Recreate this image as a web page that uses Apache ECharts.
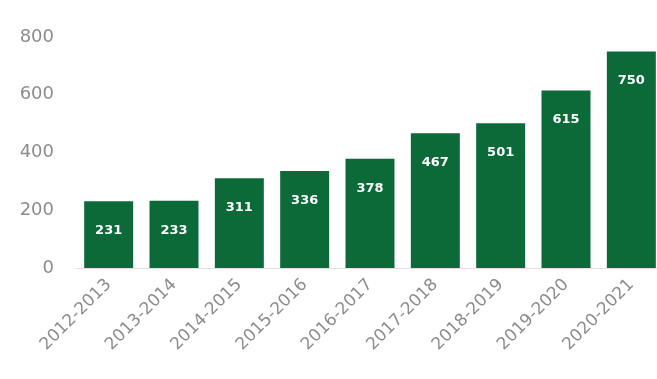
<!DOCTYPE html>
<html>
<head>
<meta charset="utf-8">
<script src="https://cdn.jsdelivr.net/npm/echarts@6/dist/echarts.min.js"></script>
<style>
  html, body { margin: 0; padding: 0; background: #fff; }
  #chart { width: 657px; height: 379px; }
</style>
</head>
<body>
<div id="chart"></div>
<script>
// school years and counts
const years = ['2012-2013', '2013-2014', '2014-2015', '2015-2016', '2016-2017',
  '2017-2018', '2018-2019', '2019-2020', '2020-2021'];
const counts = [231, 233, 311, 336, 378, 467, 501, 615, 750];
const yTicks = [0, 200, 400, 600, 800];

const chart = echarts.init(document.getElementById('chart'));

chart.setOption({
  animation: false,
  grid: { left: 76, top: 37, width: 588, bottom: 111, outerBoundsMode: 'none' },
  xAxis: {
    type: 'category',
    data: years,
    axisLine: { show: true, lineStyle: { color: '#e6e0de', width: 1 } },
    axisTick: { show: false },
    axisLabel: {
      rotate: 45,
      margin: 14,
      color: '#8c8c8c',
      fontSize: 17,
      fontFamily: 'DejaVu Sans'
    }
  },
  yAxis: {
    type: 'value',
    min: yTicks[0],
    max: yTicks[yTicks.length - 1],
    interval: 200,
    splitLine: { show: false },
    axisLine: { show: false },
    axisTick: { show: false },
    axisLabel: {
      margin: 22,
      color: '#8c8c8c',
      fontSize: 18,
      fontFamily: 'DejaVu Sans'
    }
  },
  series: [{
    type: 'bar',
    data: counts,
    barWidth: '75%',
    itemStyle: { color: '#0b6a38' },
    label: {
      show: true,
      position: 'insideTop',
      distance: 23,
      color: '#ffffff',
      fontSize: 13,
      fontWeight: 'bold',
      fontFamily: 'DejaVu Sans'
    }
  }]
});
</script>
</body>
</html>
